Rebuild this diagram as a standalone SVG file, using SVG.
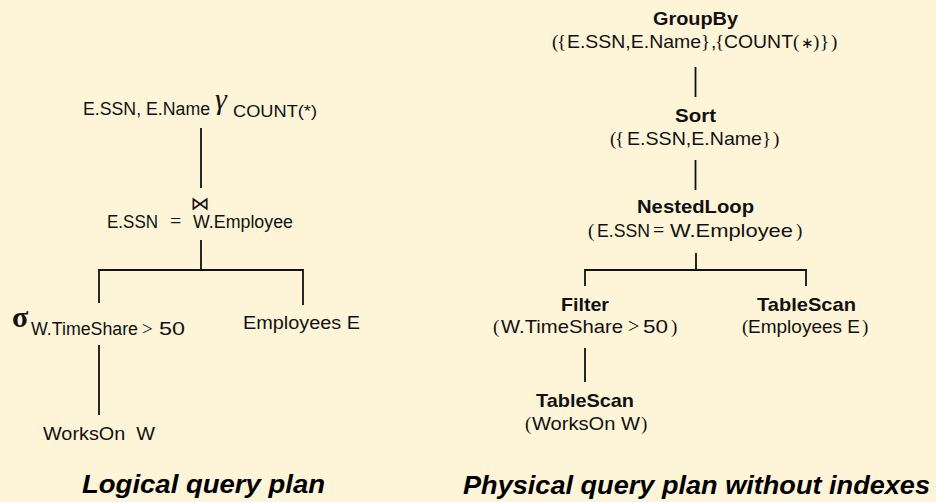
<svg xmlns="http://www.w3.org/2000/svg" width="936" height="502" viewBox="0 0 936 502">
<style>
.s{font-family:"Liberation Sans",Arial,sans-serif;font-size:18px;fill:#111}
.p{font-size:19px}
.b{font-family:"Liberation Sans",Arial,sans-serif;font-size:19px;font-weight:bold;fill:#111}
.m{font-family:"Liberation Serif","Times New Roman",serif}
.cap{font-family:"Liberation Sans",Arial,sans-serif;font-size:25px;font-weight:bold;font-style:italic;fill:#000}
.e{stroke:#111;stroke-width:1.8;fill:none}
</style>
<rect width="936" height="502" fill="#fef5d8"/>
<g id="connectors" class="e">
<path d="M201,128V188"/>
<path d="M201,240V270M99,303V270H303V305"/>
<path d="M99,345V415"/>
<path d="M695.5,67V97"/>
<path d="M695.5,160V190"/>
<path d="M696,253V270M585,286V270H806V286"/>
<path d="M585,348V382"/>
</g>
<g id="l-groupby">
<text class="s" y="115"><tspan x="83" textLength="127" lengthAdjust="spacingAndGlyphs">E.SSN, E.Name</tspan><tspan class="m" x="215" y="109" font-style="italic" font-size="30">γ</tspan><tspan x="233" y="117" font-size="17" textLength="84" lengthAdjust="spacingAndGlyphs">COUNT(*)</tspan></text>
</g>
<g id="l-join">
<text x="200" y="210" text-anchor="middle" style="font-family:'DejaVu Sans',sans-serif;font-size:19px;fill:#111">⋈</text>
<text class="s" y="228"><tspan x="107" textLength="51" lengthAdjust="spacingAndGlyphs">E.SSN</tspan><tspan class="m" x="170" font-size="20">=</tspan><tspan x="193" textLength="100" lengthAdjust="spacingAndGlyphs">W.Employee</tspan></text>
</g>
<g id="l-select">
<text class="s" y="335"><tspan class="m" x="12" y="327" font-weight="bold" font-size="30">σ</tspan><tspan x="31" y="335" textLength="107" lengthAdjust="spacingAndGlyphs">W.TimeShare</tspan><tspan class="m" x="142" font-size="19">&gt;</tspan><tspan x="159" textLength="26" lengthAdjust="spacingAndGlyphs">50</tspan></text>
</g>
<g id="l-employees">
<text class="s" x="243" y="329" textLength="117" lengthAdjust="spacingAndGlyphs">Employees E</text>
</g>
<g id="l-workson">
<text class="s" x="43" y="440" textLength="112" lengthAdjust="spacingAndGlyphs" xml:space="preserve">WorksOn  W</text>
</g>
<g id="p-groupby">
<text class="b" x="653" y="25" textLength="85" lengthAdjust="spacingAndGlyphs">GroupBy</text>
<text class="s p" y="48"><tspan class="m" x="552">(</tspan><tspan class="m" x="557">{</tspan><tspan x="567" textLength="134" lengthAdjust="spacingAndGlyphs">E.SSN,E.Name</tspan><tspan class="m" x="701">}</tspan><tspan x="711">,</tspan><tspan class="m" x="715">{</tspan><tspan x="724" textLength="69" lengthAdjust="spacingAndGlyphs">COUNT</tspan><tspan class="m" x="793">(</tspan><tspan class="m" x="801" font-size="15">∗</tspan><tspan class="m" x="813">)</tspan><tspan class="m" x="820">}</tspan><tspan class="m" x="831">)</tspan></text>
</g>
<g id="p-sort">
<text class="b" x="675" y="122" textLength="41" lengthAdjust="spacingAndGlyphs">Sort</text>
<text class="s p" y="145"><tspan class="m" x="610">(</tspan><tspan class="m" x="615">{</tspan><tspan x="627" textLength="135" lengthAdjust="spacingAndGlyphs">E.SSN,E.Name</tspan><tspan class="m" x="762">}</tspan><tspan class="m" x="773">)</tspan></text>
</g>
<g id="p-nestedloop">
<text class="b" x="637" y="213" textLength="117" lengthAdjust="spacingAndGlyphs">NestedLoop</text>
<text class="s p" y="237"><tspan class="m" x="588">(</tspan><tspan x="597" textLength="53" lengthAdjust="spacingAndGlyphs">E.SSN</tspan><tspan class="m" x="653" font-size="20">=</tspan><tspan x="670" textLength="123" lengthAdjust="spacingAndGlyphs">W.Employee</tspan><tspan class="m" x="796">)</tspan></text>
</g>
<g id="p-filter">
<text class="b" x="561" y="311" textLength="48" lengthAdjust="spacingAndGlyphs">Filter</text>
<text class="s p" y="333"><tspan class="m" x="493">(</tspan><tspan x="501" textLength="122" lengthAdjust="spacingAndGlyphs">W.TimeShare</tspan><tspan class="m" x="628" font-size="20">&gt;</tspan><tspan x="643" textLength="25" lengthAdjust="spacingAndGlyphs">50</tspan><tspan class="m" x="671">)</tspan></text>
</g>
<g id="p-tablescan-e">
<text class="b" x="757" y="311" textLength="99" lengthAdjust="spacingAndGlyphs">TableScan</text>
<text class="s p" y="333"><tspan class="m" x="742">(</tspan><tspan x="748" textLength="112" lengthAdjust="spacingAndGlyphs">Employees E</tspan><tspan class="m" x="862">)</tspan></text>
</g>
<g id="p-tablescan-w">
<text class="b" x="536" y="407" textLength="98" lengthAdjust="spacingAndGlyphs">TableScan</text>
<text class="s p" y="430"><tspan class="m" x="525">(</tspan><tspan x="532" textLength="108" lengthAdjust="spacingAndGlyphs">WorksOn W</tspan><tspan class="m" x="641">)</tspan></text>
</g>
<g id="captions">
<text class="cap" x="82" y="493" textLength="243" lengthAdjust="spacingAndGlyphs">Logical query plan</text>
<text class="cap" x="463" y="494" textLength="467" lengthAdjust="spacingAndGlyphs">Physical query plan without indexes</text>
</g>
</svg>
